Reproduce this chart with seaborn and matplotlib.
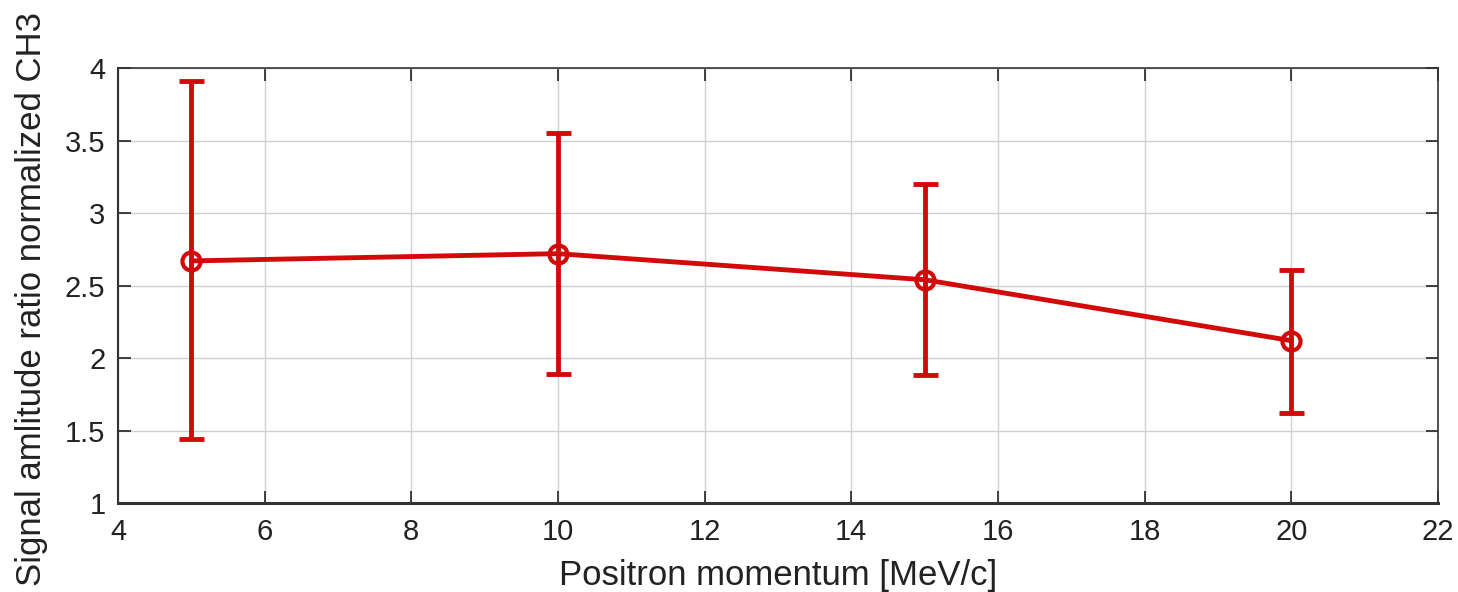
import matplotlib
matplotlib.use("Agg")
import matplotlib.pyplot as plt
import seaborn as sns
import numpy as np
import pandas as pd

momentum = [5, 10, 15, 20]
ratio = [2.67, 2.72, 2.54, 2.12]
err_high = [3.91, 3.55, 3.20, 2.61]
err_low = [1.44, 1.89, 1.88, 1.62]
xticks = [4, 6, 8, 10, 12, 14, 16, 18, 20, 22]
yticks = [1, 1.5, 2, 2.5, 3, 3.5, 4]

sns.set_theme(style="white")
plt.rcParams['font.family'] = ['Liberation Sans', 'DejaVu Sans']

df = pd.DataFrame({"momentum": momentum, "ratio": ratio})
red = "#d10a0a"

fig = plt.figure(figsize=(14.58, 5.92), dpi=100)
ax = fig.add_axes([0.0809, 0.1503, 0.9054, 0.7347])

ax.grid(True, color="#d0d0d0", linewidth=1.0)
ax.set_axisbelow(True)

y = np.array(ratio)
yerr = np.vstack([y - np.array(err_low), np.array(err_high) - y])
ax.errorbar(momentum, ratio, yerr=yerr, fmt='none', ecolor=red, elinewidth=3.5,
            capsize=9, capthick=3.5, zorder=3)
sns.lineplot(data=df, x="momentum", y="ratio", ax=ax, color=red, linewidth=3.5,
             marker='o', markersize=13, markerfacecolor='none',
             markeredgecolor=red, markeredgewidth=3, zorder=4)

ax.set_xlim(4, 22)
ax.set_ylim(1, 4)
ax.set_xticks(xticks)
ax.set_xticklabels([str(t) for t in xticks])
ax.set_yticks(yticks)
ax.set_yticklabels([f"{t:g}" for t in yticks])
ax.tick_params(axis='both', direction='in', length=9, width=1.2, labelsize=21,
               top=True, right=True, bottom=True, left=True, colors='#222222')
ax.tick_params(axis='x', pad=11)
ax.tick_params(axis='y', pad=9)
for s in ax.spines.values():
    s.set_visible(True)
    s.set_color('#333333')
    s.set_linewidth(1.2)
ax.spines['bottom'].set_linewidth(2.2)
ax.spines['left'].set_linewidth(1.5)

ax.set_xlabel("Positron momentum [MeV/c]", fontsize=25, color='#222222')
ax.set_ylabel("Signal amlitude ratio normalized CH3", fontsize=25, color='#222222')
ax.xaxis.set_label_coords(0.5, -0.128)
ax.yaxis.set_label_coords(-0.053, 0.47)

fig.savefig("out.png", dpi=100)
